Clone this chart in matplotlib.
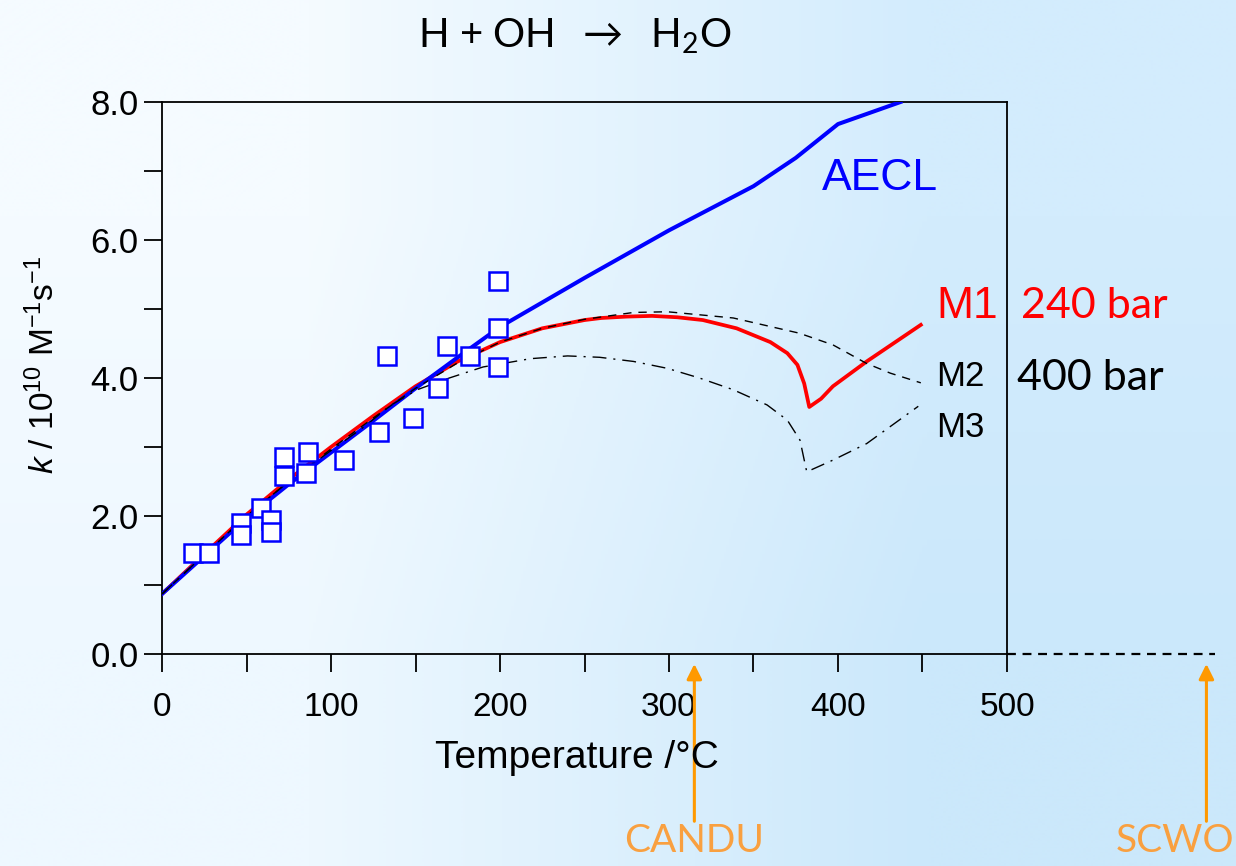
import numpy as np
import matplotlib
matplotlib.use("Agg")
import matplotlib.pyplot as plt
from matplotlib import font_manager

# ---- data ----
aecl_t = [0, 25, 50, 75, 100, 125, 150, 175, 200, 250, 300, 350, 375, 400, 437]
aecl_k = [0.87, 1.42, 1.97, 2.46, 2.92, 3.38, 3.85, 4.30, 4.74, 5.45, 6.14, 6.78, 7.19, 7.68, 8.0]

m1_t = [0, 25, 50, 75, 100, 125, 150, 175, 200, 225, 250, 260, 275, 290, 305, 320, 340, 360,
        370, 376, 380, 383, 390, 397, 417, 449]
m1_k = [0.87, 1.45, 2.02, 2.53, 3.00, 3.45, 3.88, 4.24, 4.52, 4.72, 4.84, 4.87, 4.89, 4.90,
        4.88, 4.84, 4.72, 4.52, 4.36, 4.19, 3.92, 3.58, 3.70, 3.88, 4.24, 4.77]

m2_t = [0, 25, 50, 75, 100, 125, 150, 175, 200, 225, 250, 279, 299, 338, 377, 397, 417, 431, 449]
m2_k = [0.87, 1.44, 2.00, 2.50, 2.97, 3.42, 3.85, 4.22, 4.52, 4.72, 4.85, 4.95, 4.96,
        4.87, 4.65, 4.48, 4.21, 4.07, 3.93]

m3_t = [0, 25, 50, 75, 100, 120, 135, 151, 170, 190, 218, 240, 259, 279, 299, 318, 338,
        358, 370, 377.5, 381.5, 397, 417, 447.5]
m3_k = [0.87, 1.44, 2.00, 2.50, 2.95, 3.30, 3.60, 3.83, 4.00, 4.16, 4.28, 4.32, 4.30,
        4.24, 4.14, 4.00, 3.83, 3.61, 3.39, 3.10, 2.64, 2.81, 3.05, 3.59]

exp_t = [18.5, 28, 46.7, 46.7, 58.6, 64.5, 64.5, 72.4, 72.4, 86.4, 85.2, 107.9, 128.2,
         133.1, 148.3, 163.5, 168.6, 182.2, 199, 199, 199]
exp_k = [1.46, 1.46, 1.90, 1.72, 2.11, 1.94, 1.77, 2.85, 2.58, 2.93, 2.63, 2.81, 3.22,
         4.32, 3.42, 3.86, 4.47, 4.32, 5.41, 4.73, 4.16]

x_ticks = [0, 100, 200, 300, 400, 500]
y_ticks = [0.0, 2.0, 4.0, 6.0, 8.0]
candu_t = 315
scwo_t = 618
x_extend = 623

names = {f.name for f in font_manager.fontManager.ttflist}
narrow = 'Liberation Sans Narrow' if 'Liberation Sans Narrow' in names else 'Liberation Sans'
arial = 'Liberation Sans'
calibri = 'Lato'

plt.rcParams['font.family'] = [arial, 'DejaVu Sans']
plt.rcParams['mathtext.fontset'] = 'custom'
plt.rcParams['mathtext.rm'] = calibri
plt.rcParams['mathtext.sf'] = narrow
plt.rcParams['mathtext.it'] = narrow + ':italic'

fig = plt.figure(figsize=(12.36, 8.66), dpi=100)

# background gradient
bg = fig.add_axes([0, 0, 1, 1], zorder=-10)
grad = np.array([[[245, 251, 255], [211, 236, 253]],
                 [[238, 248, 255], [203, 232, 251]]]) / 255.0
bg.imshow(grad, aspect='auto', interpolation='bilinear', extent=[0, 1, 0, 1])
bg.axis('off')

ax = fig.add_axes([162 / 1236, 1 - 654 / 866, 845 / 1236, 552 / 866])
ax.set_facecolor('none')

ax.plot(aecl_t, aecl_k, color='#0000ff', lw=2.9, zorder=3)
ax.plot(m1_t, m1_k, color='#ff0000', lw=2.7, zorder=2)
ax.plot(m2_t, m2_k, color='black', lw=1.0, dashes=(6, 5), zorder=4)
ax.plot(m3_t, m3_k, color='black', lw=1.0, dashes=(10, 5, 1.5, 5), zorder=4)
ax.plot(exp_t, exp_k, 's', ms=12.5, mfc='white', mec='#0000ff', mew=1.8, zorder=5)

ax.set_xlim(0, 500)
ax.set_ylim(0, 8)
ax.set_xticks(x_ticks)
ax.set_xticks(np.arange(50, 500, 100), minor=True)
ax.set_yticks(y_ticks)
ax.set_yticks(np.arange(1, 8, 2), minor=True)
ax.set_xticklabels([str(v) for v in x_ticks])
ax.set_yticklabels([f'{v:.1f}' for v in y_ticks])
for s in ax.spines.values():
    s.set_linewidth(1.3)
ax.tick_params(which='both', direction='out', length=13, width=1.3, top=False, right=False)
ax.tick_params(axis='x', which='major', pad=14, labelsize=24)
ax.tick_params(axis='y', which='major', pad=4, labelsize=25)
for lab in ax.get_xticklabels() + ax.get_yticklabels():
    lab.set_fontfamily(narrow)

# dashed continuation of the temperature axis
ax.plot([500, x_extend], [0, 0], color='black', lw=1.6, dashes=(4, 3), clip_on=False)

# line labels
ax.text(425, 6.72, 'AECL', color='#0000ff', fontsize=32, ha='center', va='baseline')
ax.text(458, 4.87, 'M1', color='#ff0000', fontsize=32, ha='left', va='baseline')
ax.text(508, 4.87, '240 bar', color='#ff0000', fontsize=31, family=calibri,
        ha='left', va='baseline')
ax.text(458, 3.88, 'M2', color='black', fontsize=25, ha='left', va='baseline')
ax.text(506, 3.83, '400 bar', color='black', fontsize=31, family=calibri,
        ha='left', va='baseline')
ax.text(458, 3.15, 'M3', color='black', fontsize=25, ha='left', va='baseline')

# CANDU / SCWO arrows
tr = ax.get_xaxis_transform()
for t in (candu_t, scwo_t):
    ax.annotate('', xy=(t, -0.018), xytext=(t, -0.303), xycoords=tr, textcoords=tr,
                arrowprops=dict(arrowstyle='-|>,head_length=0.9,head_width=0.45',
                                color='#ff9900', lw=2.2, shrinkA=0, shrinkB=0),
                annotation_clip=False)
fig.text(694 / 1236, 1 - 823 / 866, 'CANDU', color='#f9a040', fontsize=28,
         family=calibri, ha='center', va='top')
fig.text(1234 / 1236, 1 - 823 / 866, 'SCWO', color='#f9a040', fontsize=28,
         family=calibri, ha='right', va='top')

fig.text(577 / 1236, 1 - 768 / 866, 'Temperature /°C', fontsize=28, family=narrow,
         ha='center', va='baseline')
fig.text(44 / 1236, 1 - 365 / 866, r'$\mathit{k}\mathsf{\ /\ 10^{10}\ M^{-1}s^{-1}}$',
         fontsize=24, rotation=90, ha='center', va='center')
fig.text(575 / 1236, 1 - 47 / 866, r'H + OH  $\rightarrow$  H$_2$O', fontsize=29,
         family=calibri, ha='center', va='baseline')

fig.savefig('out.png', dpi=100)
